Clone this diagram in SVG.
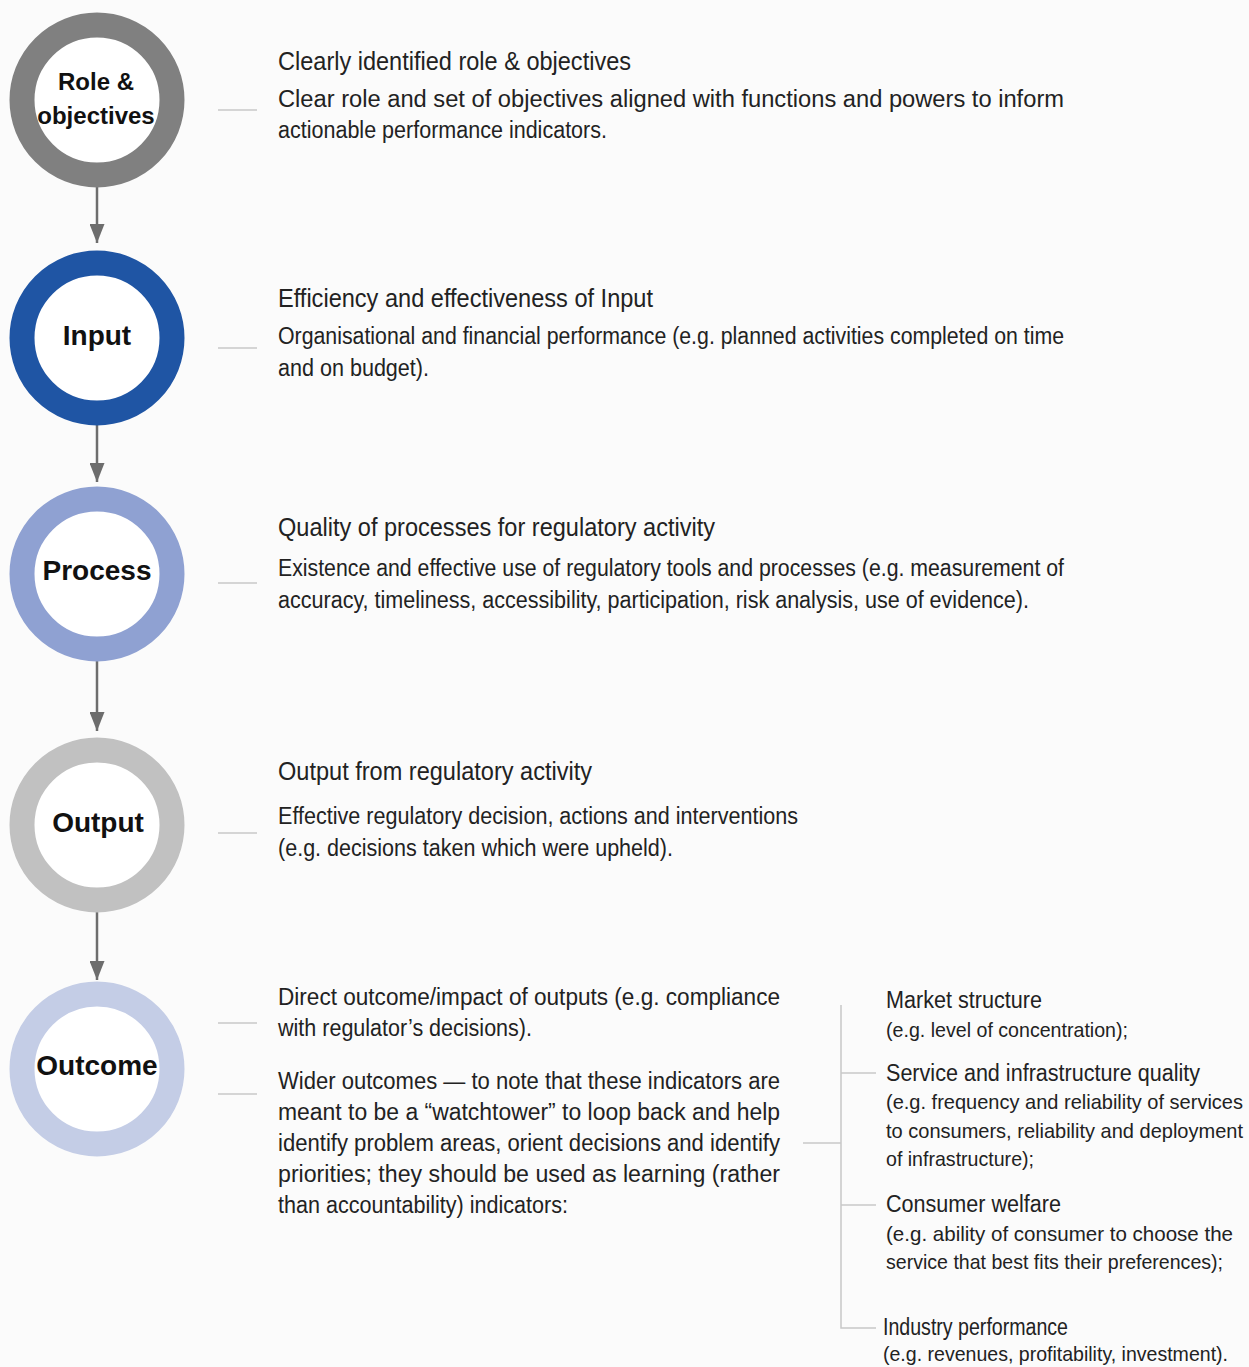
<svg xmlns="http://www.w3.org/2000/svg" width="1249" height="1367" viewBox="0 0 1249 1367">
  <defs>
    <style>
      .ring { fill: #ffffff; stroke-width: 25; }
      .lbl { font-family: "Liberation Sans", Arial, sans-serif; font-weight: bold; font-size: 28px; fill: #111111; text-anchor: middle; }
      .hd { font-family: "Liberation Sans Narrow", "Liberation Sans", Arial, sans-serif; font-size: 25px; fill: #222222; }
      .bd { font-family: "Liberation Sans Narrow", "Liberation Sans", Arial, sans-serif; font-size: 23px; fill: #222222; }
      .rhd { font-family: "Liberation Sans Narrow", "Liberation Sans", Arial, sans-serif; font-size: 23px; fill: #222222; }
      .rbd { font-family: "Liberation Sans Narrow", "Liberation Sans", Arial, sans-serif; font-size: 21px; fill: #222222; }
      .stub { stroke: #c8c8c8; stroke-width: 1.5; fill: none; }
      .flow { stroke: #6d6d6d; stroke-width: 2.5; fill: none; }
    </style>
    <marker id="head" viewBox="0 0 19 15" refX="19" refY="7.5" markerWidth="19" markerHeight="15" markerUnits="userSpaceOnUse" orient="auto">
      <path d="M0,0 L19,7.5 L0,15 Z" fill="#6d6d6d"/>
    </marker>
  </defs>

  <rect width="1249" height="1367" fill="#fbfbfb"/>

  <!-- flow arrows between stages and the short leader lines -->
  <g id="connectors">
    <line class="flow" x1="97" y1="187" x2="97" y2="243" marker-end="url(#head)"/>
    <line class="flow" x1="97" y1="425" x2="97" y2="482" marker-end="url(#head)"/>
    <line class="flow" x1="97" y1="661" x2="97" y2="731" marker-end="url(#head)"/>
    <line class="flow" x1="97" y1="912" x2="97" y2="980" marker-end="url(#head)"/>

    <line class="stub" x1="218" y1="110" x2="257" y2="110"/>
    <line class="stub" x1="218" y1="348" x2="257" y2="348"/>
    <line class="stub" x1="218" y1="583" x2="257" y2="583"/>
    <line class="stub" x1="218" y1="833" x2="257" y2="833"/>
    <line class="stub" x1="218" y1="1023" x2="257" y2="1023"/>
    <line class="stub" x1="218" y1="1094" x2="257" y2="1094"/>

    <!-- bracket for the wider outcome indicators -->
    <line class="stub" x1="803" y1="1143" x2="841" y2="1143"/>
    <path class="stub" d="M841,1005 V1328 H876"/>
    <line class="stub" x1="841" y1="1073" x2="876" y2="1073"/>
    <line class="stub" x1="841" y1="1205" x2="876" y2="1205"/>
  </g>

  <!-- stage nodes -->
  <g id="node-role">
    <circle class="ring" cx="97" cy="100" r="75" stroke="#808080"/>
    <text class="lbl" x="96" y="90" style="font-size:24px">Role &amp;</text>
    <text class="lbl" x="96" y="124" style="font-size:24px">objectives</text>
  </g>
  <g id="node-input">
    <circle class="ring" cx="97" cy="338" r="75" stroke="#1f55a4"/>
    <text class="lbl" x="97" y="345">Input</text>
  </g>
  <g id="node-process">
    <circle class="ring" cx="97" cy="574" r="75" stroke="#8fa1d2"/>
    <text class="lbl" x="97" y="580">Process</text>
  </g>
  <g id="node-output">
    <circle class="ring" cx="97" cy="825" r="75" stroke="#c1c1c1"/>
    <text class="lbl" x="98" y="832">Output</text>
  </g>
  <g id="node-outcome">
    <circle class="ring" cx="97" cy="1069" r="75" stroke="#c4cde6"/>
    <text class="lbl" x="97" y="1075">Outcome</text>
  </g>

  <!-- descriptions -->
  <g id="desc-role">
    <text class="hd" x="278" y="70" textLength="353" lengthAdjust="spacingAndGlyphs">Clearly identified role &amp; objectives</text>
    <text class="bd" x="278" y="107" textLength="786" lengthAdjust="spacingAndGlyphs">Clear role and set of objectives aligned with functions and powers to inform</text>
    <text class="bd" x="278" y="138" textLength="329" lengthAdjust="spacingAndGlyphs">actionable performance indicators.</text>
  </g>
  <g id="desc-input">
    <text class="hd" x="278" y="307" textLength="375" lengthAdjust="spacingAndGlyphs">Efficiency and effectiveness of Input</text>
    <text class="bd" x="278" y="344" textLength="786" lengthAdjust="spacingAndGlyphs">Organisational and financial performance (e.g. planned activities completed on time</text>
    <text class="bd" x="278" y="376" textLength="151" lengthAdjust="spacingAndGlyphs">and on budget).</text>
  </g>
  <g id="desc-process">
    <text class="hd" x="278" y="536" textLength="437" lengthAdjust="spacingAndGlyphs">Quality of processes for regulatory activity</text>
    <text class="bd" x="278" y="576" textLength="786" lengthAdjust="spacingAndGlyphs">Existence and effective use of regulatory tools and processes (e.g. measurement of</text>
    <text class="bd" x="278" y="608" textLength="751" lengthAdjust="spacingAndGlyphs">accuracy, timeliness, accessibility, participation, risk analysis, use of evidence).</text>
  </g>
  <g id="desc-output">
    <text class="hd" x="278" y="780" textLength="314" lengthAdjust="spacingAndGlyphs">Output from regulatory activity</text>
    <text class="bd" x="278" y="824" textLength="520" lengthAdjust="spacingAndGlyphs">Effective regulatory decision, actions and interventions</text>
    <text class="bd" x="278" y="856" textLength="395" lengthAdjust="spacingAndGlyphs">(e.g. decisions taken which were upheld).</text>
  </g>
  <g id="desc-outcome">
    <text class="bd" x="278" y="1005" textLength="502" lengthAdjust="spacingAndGlyphs">Direct outcome/impact of outputs (e.g. compliance</text>
    <text class="bd" x="278" y="1036" textLength="254" lengthAdjust="spacingAndGlyphs">with regulator’s decisions).</text>
    <text class="bd" x="278" y="1089" textLength="502" lengthAdjust="spacingAndGlyphs">Wider outcomes — to note that these indicators are</text>
    <text class="bd" x="278" y="1120" textLength="502" lengthAdjust="spacingAndGlyphs">meant to be a “watchtower” to loop back and help</text>
    <text class="bd" x="278" y="1151" textLength="502" lengthAdjust="spacingAndGlyphs">identify problem areas, orient decisions and identify</text>
    <text class="bd" x="278" y="1182" textLength="502" lengthAdjust="spacingAndGlyphs">priorities; they should be used as learning (rather</text>
    <text class="bd" x="278" y="1213" textLength="290" lengthAdjust="spacingAndGlyphs">than accountability) indicators:</text>
  </g>
  <g id="desc-wider">
    <text class="rhd" x="886" y="1008" textLength="156" lengthAdjust="spacingAndGlyphs">Market structure</text>
    <text class="rbd" x="886" y="1037" textLength="242" lengthAdjust="spacingAndGlyphs">(e.g. level of concentration);</text>
    <text class="rhd" x="886" y="1081" textLength="314" lengthAdjust="spacingAndGlyphs">Service and infrastructure quality</text>
    <text class="rbd" x="886" y="1109" textLength="357" lengthAdjust="spacingAndGlyphs">(e.g. frequency and reliability of services</text>
    <text class="rbd" x="886" y="1138" textLength="357" lengthAdjust="spacingAndGlyphs">to consumers, reliability and deployment</text>
    <text class="rbd" x="886" y="1166" textLength="148" lengthAdjust="spacingAndGlyphs">of infrastructure);</text>
    <text class="rhd" x="886" y="1212" textLength="175" lengthAdjust="spacingAndGlyphs">Consumer welfare</text>
    <text class="rbd" x="886" y="1241" textLength="347" lengthAdjust="spacingAndGlyphs">(e.g. ability of consumer to choose the</text>
    <text class="rbd" x="886" y="1269" textLength="337" lengthAdjust="spacingAndGlyphs">service that best fits their preferences);</text>
    <text class="rhd" x="883" y="1335" textLength="185" lengthAdjust="spacingAndGlyphs">Industry performance</text>
    <text class="rbd" x="883" y="1361" textLength="345" lengthAdjust="spacingAndGlyphs">(e.g. revenues, profitability, investment).</text>
  </g>
</svg>
